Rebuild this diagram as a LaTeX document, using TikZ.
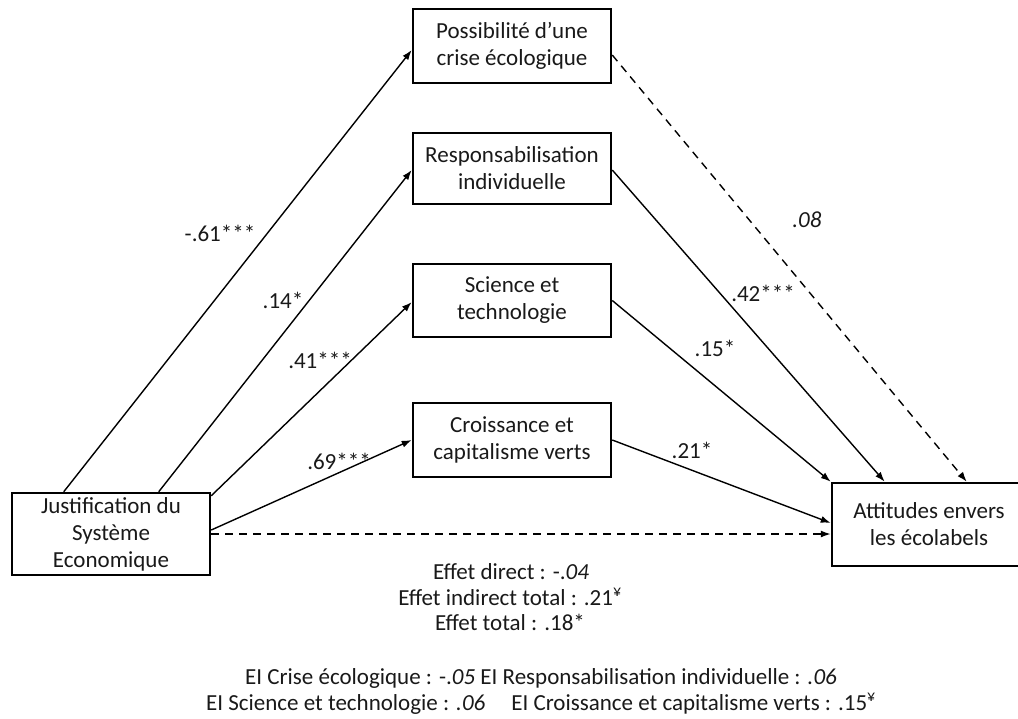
\documentclass[tikz,border=0pt]{standalone}
\usepackage{fontspec}
\setmainfont{Carlito}
\usetikzlibrary{arrows.meta}
\begin{document}
\begin{tikzpicture}[x=1pt,y=-1pt,
  every node/.style={font=\fontsize{23}{27}\selectfont, text=black!90},
  box/.style={draw, line width=2.5pt, align=center, inner sep=0pt, minimum width=198pt},
  arr/.style={line width=1.4pt, -{Latex[length=10pt,width=7pt]}},
  dasharr/.style={arr, dash pattern=on 8pt off 6pt},
  lbl/.style={inner sep=0pt}
]
\useasboundingbox (0,0) rectangle (1018,718);
% boxes
\node[box, minimum height=82pt] (J) at (111,534) {Justification du\\Système\\Economique};
\node[box, minimum height=74pt] (P1) at (512,46) {Possibilité d’une\\crise écologique};
\node[box, minimum height=71pt] (P2) at (512,168.5) {Responsabilisation\\individuelle};
\node[box, minimum height=73pt] (P3) at (512,300.5) {Science et\\technologie};
\node[box, minimum height=74pt] (P4) at (512,440) {Croissance et\\capitalisme verts};
\node[box, minimum height=83pt, minimum width=194pt] (A) at (929,524.5) {Attitudes envers\\les écolabels};
% left arrows
\draw[arr] ([xshift=53pt]J.north west) -- ([yshift=-4pt]P1.west);
\draw[arr] ([xshift=148pt]J.north west) -- ([yshift=-1.5pt]P2.west);
\draw[arr] ([yshift=-4pt]J.north east) -- ([yshift=-1.5pt]P3.west);
\draw[arr] ([yshift=4pt]J.east) -- (P4.west);
\draw[dasharr] (J.east) -- (J.east -| A.west);
% right arrows
\draw[dasharr] ([yshift=-9pt]P1.east) -- ([xshift=136pt]A.north west);
\draw[arr] ([yshift=-1.5pt]P2.east) -- ([xshift=54pt]A.north west);
\draw[arr] (P3.east) -- (A.north west);
\draw[arr] (P4.east) -- ([yshift=1.5pt]A.west);
% coefficient labels
\node[lbl] (l1) at (220,233) {-.61***};
\node[lbl] (l2) at (283,300) {.14*};
\node[lbl] (l3) at (320,360) {.41***};
\node[lbl] (l4) at (339,461) {.69***};
\node[lbl] (r1) at (763,293) {.42***};
\node[lbl] (r2) at (715,348) {.15*};
\node[lbl] (r3) at (692,450) {.21*};
\node[lbl] (r0) at (807,220) {\textit{.08}};
% effects
\node[lbl] (e1) at (511,572) {Effet direct : -.\textit{04}};
\node[lbl] (e2) at (510,597) {Effet indirect total : .21\textsuperscript{¥}};
\node[lbl] (e3) at (510,622) {Effet total : .18*};
\node[lbl] (b1) at (541,678) {EI Crise écologique : -.\textit{05} EI Responsabilisation individuelle : \textit{.06}};
\node[lbl] (b2) at (541,704) {EI Science et technologie : \textit{.06}\hspace{26pt}EI Croissance et capitalisme verts : .15\textsuperscript{¥}};
\end{tikzpicture}
\end{document}
